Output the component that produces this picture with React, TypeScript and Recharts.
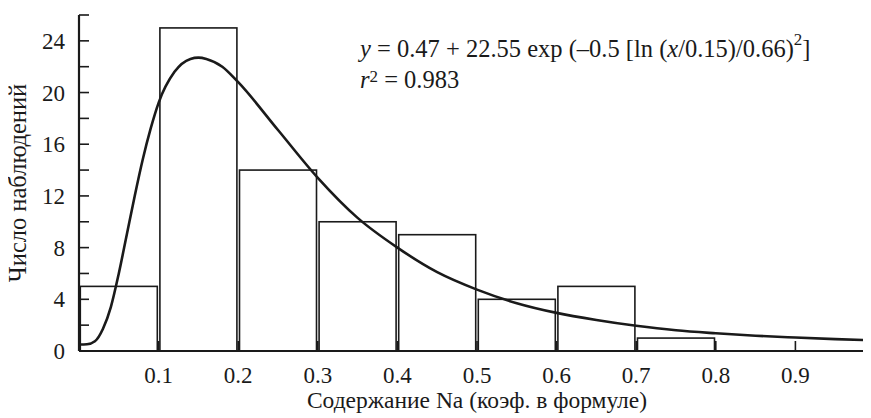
import React from 'react';
import { ComposedChart, Line, XAxis, YAxis, ReferenceArea } from 'recharts';

// Histogram bins (Na content, formula units) and observation counts
const binStarts = [0.0, 0.1, 0.2, 0.3, 0.4, 0.5, 0.6, 0.7, 0.8, 0.9];
const binWidth = 0.1;
const counts = [5, 25, 14, 10, 9, 4, 5, 1, 0, 0];

// Fitted lognormal curve
const curveX = [0, 0.01, 0.02, 0.03, 0.04, 0.05, 0.06, 0.07, 0.08, 0.09, 0.1, 0.12, 0.14, 0.15, 0.16, 0.18, 0.2, 0.25, 0.3, 0.35, 0.4, 0.45, 0.5, 0.55, 0.6, 0.65, 0.7, 0.75, 0.8, 0.85, 0.9, 0.95, 1.0];
const curveY = [0.5, 0.52, 0.75, 1.7, 3.4, 6.0, 9.0, 12.0, 14.8, 17.2, 19.2, 21.6, 22.6, 22.7, 22.6, 22.0, 20.8, 17.1, 13.4, 10.3, 8.0, 6.1, 4.75, 3.7, 2.95, 2.4, 1.95, 1.6, 1.37, 1.18, 1.04, 0.92, 0.83];

const xTicks = [0.1, 0.2, 0.3, 0.4, 0.5, 0.6, 0.7, 0.8, 0.9];
const yTicks = [0, 2, 4, 6, 8, 10, 12, 14, 16, 18, 20, 22, 24, 26];
const yLabelStep = 4;

const xLabel = 'Содержание Na (коэф. в формуле)';
const yLabel = 'Число наблюдений';

const curveData = curveX.map((x, i) => ({ x, y: curveY[i] }));
const bins = binStarts
  .map((s, i) => ({ s, e: s + binWidth, c: counts[i] }))
  .filter((b) => b.c > 0);

const FONT = '"Liberation Serif", "Times New Roman", serif';
const INK = '#1a1a1a';

const BinShape = (props: any) => {
  const { x, y, width, height } = props;
  const inset = 1.3;
  return (
    <rect
      x={x + inset}
      y={y}
      width={Math.max(0, width - inset * 2)}
      height={height}
      fill="none"
      stroke={INK}
      strokeWidth={1.6}
    />
  );
};

export default function App() {
  return (
    <div style={{ margin: '-8px 0 0 -8px', width: 871, height: 418, overflow: 'hidden', position: 'relative', background: '#fff' }}>
      <ComposedChart
        width={875}
        height={418}
        data={curveData}
        margin={{ top: 15, right: 0, bottom: 0, left: 0 }}
      >
        <XAxis
          dataKey="x"
          type="number"
          domain={[0, 1]}
          ticks={xTicks}
          allowDataOverflow
          height={67}
          tickSize={-10}
          tickMargin={26}
          tickFormatter={(v: number) => v.toFixed(1)}
          tick={{ fill: INK, fontSize: 23, fontFamily: FONT }}
          axisLine={{ stroke: INK, strokeWidth: 2.2 }}
          tickLine={{ stroke: INK, strokeWidth: 1.6 }}
          label={{ value: xLabel, position: 'insideBottom', offset: 10, fill: INK, fontSize: 23.5, fontFamily: FONT }}
        />
        <YAxis
          type="number"
          domain={[0, 26]}
          ticks={yTicks}
          allowDataOverflow
          width={79}
          tickSize={-10}
          tickMargin={24}
          interval={0}
          tickFormatter={(v: number) => (v % yLabelStep === 0 && v <= 24 ? String(v) : '')}
          tick={{ fill: INK, fontSize: 23, fontFamily: FONT }}
          axisLine={{ stroke: INK, strokeWidth: 2.2 }}
          tickLine={{ stroke: INK, strokeWidth: 1.6 }}
          label={{ value: yLabel, angle: -90, position: 'insideLeft', dx: 12, fill: INK, fontSize: 24.5, fontFamily: FONT, style: { textAnchor: 'middle' } }}
        />
        {bins.map((b) => (
          <ReferenceArea
            key={b.s}
            x1={b.s}
            x2={b.e}
            y1={0}
            y2={b.c}
            ifOverflow="visible"
            shape={BinShape}
          />
        ))}
        <Line
          dataKey="y"
          type="monotone"
          stroke={INK}
          strokeWidth={2.6}
          dot={false}
          isAnimationActive={false}
        />
      </ComposedChart>
      <svg width={871} height={418} style={{ position: 'absolute', left: 0, top: 0, pointerEvents: 'none' }}>
        <text x={360} y={57} fontSize={24.5} fontFamily={FONT} fill={INK}>
          <tspan fontStyle="italic">y</tspan>
          <tspan> = 0.47 + 22.55 exp (–0.5 [ln (</tspan>
          <tspan fontStyle="italic">x</tspan>
          <tspan>/0.15)/0.66)</tspan>
          <tspan dy={-12} fontSize={17}>2</tspan>
          <tspan dy={12}>]</tspan>
        </text>
        <text x={360} y={88} fontSize={24.5} fontFamily={FONT} fill={INK}>
          <tspan fontStyle="italic">r</tspan>
          <tspan dy={-6} fontSize={17}>2</tspan>
          <tspan dy={6}> = 0.983</tspan>
        </text>
      </svg>
    </div>
  );
}
